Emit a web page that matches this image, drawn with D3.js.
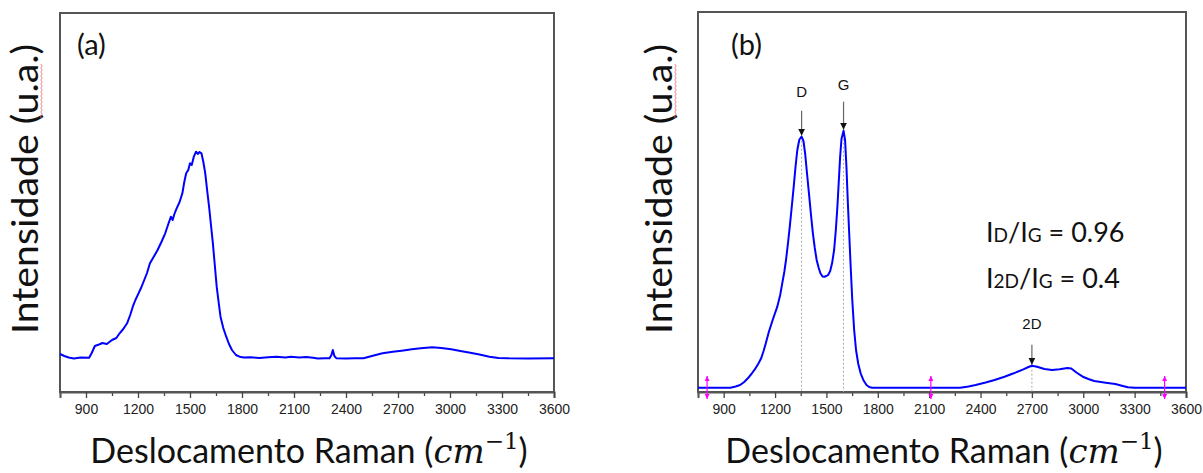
<!DOCTYPE html>
<html>
<head>
<meta charset="utf-8">
<script src="https://cdn.jsdelivr.net/npm/d3@7"></script>
<style>
  body { margin: 0; background: #fff; }
  text { font-family: Lato, "Open Sans", sans-serif; }
</style>
</head>
<body>
<svg id="canvas"></svg>
<script>
// Raman shift (cm-1) and intensity (a.u.)
const shiftA = [750, 775, 800, 830, 870, 918, 933, 951, 975, 995, 1020, 1050, 1075, 1094, 1115, 1137, 1155, 1170, 1185, 1203,
  1220, 1236, 1252, 1269, 1290, 1313, 1335, 1357, 1375, 1390, 1400, 1410, 1423, 1440, 1456, 1467, 1478, 1490, 1500, 1510,
  1522, 1535, 1545, 1555, 1566, 1577, 1588, 1600, 1610, 1621, 1632, 1643, 1654, 1665, 1676, 1692, 1709, 1725, 1742, 1765,
  1786, 1810, 1850, 1900, 1951, 2000, 2050, 2083, 2130, 2171, 2210, 2237, 2280, 2305, 2316, 2324, 2333, 2345, 2400, 2450,
  2501, 2560, 2611, 2670, 2721, 2780, 2831, 2897, 2950, 3007, 3060, 3117, 3170, 3227, 3280, 3336, 3450, 3600];
const intensA = [38, 36, 34.5, 33.5, 34.5, 34.2, 39, 46, 47.5, 49, 48, 52, 54, 58.7, 63, 68.7, 77, 85.3, 92, 98.7,
  105, 112, 119, 128.7, 135, 142, 150, 158.7, 168, 175.3, 172, 178, 183.7, 190, 198.7, 210, 218.7, 222, 228.7, 227,
  235.3, 240.3, 238, 240, 238.7, 230, 218.7, 200, 185.3, 167, 148.7, 127, 105.3, 90, 75.3, 64, 55.3, 48, 42, 37,
  35.3, 34.5, 34.8, 34, 34.7, 35.3, 34.5, 35.3, 34.6, 35, 34.2, 33.5, 33.8, 33.7, 37, 42, 36, 33.7, 33.5, 33.7,
  33.8, 36.5, 38.7, 40.2, 41.3, 42.8, 43.7, 44.7, 44, 42.7, 41, 39.3, 37.5, 35.3, 34, 33.7, 33.6, 33.7];

const shiftB = [750, 940, 970, 996, 1020, 1041, 1064, 1086, 1103, 1119, 1133, 1146, 1164, 1186, 1213, 1230, 1242, 1254, 1264, 1275,
  1286, 1298, 1309, 1320, 1330, 1342, 1355, 1366, 1376, 1387, 1398, 1410, 1421, 1432, 1443, 1455, 1465, 1477, 1488, 1500,
  1510, 1522, 1533, 1545, 1555, 1564, 1572, 1580, 1588, 1600, 1609, 1617, 1625, 1633, 1642, 1651, 1662, 1673, 1686, 1700,
  1717, 1734, 1750, 1767, 2281, 2330, 2371, 2430, 2482, 2540, 2594, 2650, 2680, 2700, 2730, 2773, 2818, 2862, 2907, 2930,
  2960, 2997, 3030, 3064, 3131, 3187, 3220, 3260, 3300, 3600];
const intensB = [4.3, 4.3, 5.5, 7, 10, 13.7, 18.5, 23.7, 28.5, 33.7, 41, 48.7, 60.3, 72, 85.3, 97, 108.7, 120, 132, 148,
  165.3, 186, 205.3, 226, 242, 252.5, 255.3, 251, 238, 218, 198.7, 177, 158.7, 144, 132, 124, 118.7, 115.5, 115.3, 116,
  117, 121, 128.7, 142, 162, 185, 210, 235, 253, 261.3, 252, 225, 190, 158.7, 124, 92, 62, 42, 28, 18.7,
  11.5, 7, 5, 4.3, 4.3, 5.5, 7, 9.5, 12, 15.3, 18.7, 22.7, 25, 26.3, 25.3, 23, 22, 22.7, 24, 23.5,
  19.5, 15.3, 13, 11, 9.3, 8, 6.5, 4.8, 4.3, 4.3];

const peakLabels = ["D", "G", "2D"];
const peakShifts = [1355, 1600, 2700];
const markerShifts = [803, 2110, 3475];
const xTickLabels = [900, 1200, 1500, 1800, 2100, 2400, 2700, 3000, 3300, 3600];

const width = 1203;
const height = 473;
const svg = d3.select("#canvas")
  .attr("width", width)
  .attr("height", height)
  .style("background", "#fff");

const defs = svg.append("defs");
defs.append("marker")
  .attr("id", "head")
  .attr("viewBox", "0 0 10 10")
  .attr("refX", 10).attr("refY", 5)
  .attr("markerWidth", 7).attr("markerHeight", 7)
  .attr("markerUnits", "userSpaceOnUse")
  .attr("orient", "auto")
  .append("path").attr("d", "M0,0 L10,5 L0,10 Z").attr("fill", "#111");
defs.append("marker")
  .attr("id", "pink")
  .attr("viewBox", "0 0 10 10")
  .attr("refX", 10).attr("refY", 5)
  .attr("markerWidth", 5).attr("markerHeight", 5)
  .attr("markerUnits", "userSpaceOnUse")
  .attr("orient", "auto")
  .append("path").attr("d", "M0,0 L10,5 L0,10 Z").attr("fill", "#ff00ff");

function panel(opt) {
  const x = d3.scaleLinear().domain([750, 3600]).range([opt.left, opt.right]);
  const y = d3.scaleLinear().domain([0, 379]).range([392, 392 - 379]);
  const g = svg.append("g");

  // frame
  g.append("rect")
    .attr("x", opt.left).attr("y", opt.top)
    .attr("width", opt.right - opt.left).attr("height", 392 - opt.top)
    .attr("fill", "none").attr("stroke", "#555").attr("stroke-width", 2);

  // x axis: labelled major ticks + minor ticks
  const minor = d3.range(750, 3601, 150).filter(v => v % 300 !== 0);
  g.append("g")
    .attr("transform", "translate(0,392)")
    .call(d3.axisBottom(x).tickValues(minor).tickSize(4).tickFormat(""))
    .call(a => a.select(".domain").remove())
    .call(a => a.selectAll("line").attr("stroke", "#444").attr("stroke-width", 1.3));
  g.append("g")
    .attr("transform", "translate(0,392)")
    .call(d3.axisBottom(x).tickValues(xTickLabels).tickSize(6).tickPadding(6).tickFormat(d3.format("d")))
    .call(a => a.select(".domain").attr("stroke", "#555").attr("stroke-width", 2))
    .call(a => a.selectAll("line").attr("stroke", "#444").attr("stroke-width", 1.3))
    .call(a => a.selectAll("text").attr("font-size", 14).attr("fill", "#222")
      .style("font-family", "'Liberation Sans', Arial, sans-serif"));

  // annotations under the curve
  if (opt.peaks) {
    peakShifts.forEach((s, i) => {
      const v = opt.ys[opt.xs.indexOf(s)];
      g.append("line")
        .attr("x1", x(s)).attr("x2", x(s))
        .attr("y1", y(v)).attr("y2", 392)
        .attr("stroke", "#aaa").attr("stroke-width", 1).attr("stroke-dasharray", "2,2");
    });
  }

  const line = d3.line().x(d => x(d[0])).y(d => y(d[1]));
  g.append("path")
    .datum(d3.zip(opt.xs, opt.ys))
    .attr("d", line)
    .attr("fill", "none")
    .attr("stroke", "#0000ff")
    .attr("stroke-width", 2)
    .attr("stroke-linejoin", "round");

  if (opt.peaks) {
    const tail = [25, 28, 20];
    const lab = [14, 12, 16];
    peakShifts.forEach((s, i) => {
      const v = opt.ys[opt.xs.indexOf(s)];
      const tip = y(v) - 1;
      g.append("line")
        .attr("x1", x(s)).attr("x2", x(s))
        .attr("y1", tip - tail[i]).attr("y2", tip)
        .attr("stroke", "#666").attr("stroke-width", 1.2)
        .attr("marker-end", "url(#head)");
      g.append("text")
        .attr("x", x(s)).attr("y", tip - tail[i] - lab[i])
        .attr("text-anchor", "middle")
        .style("font-family", "'Liberation Sans', Arial, sans-serif")
        .attr("font-size", 15).attr("fill", "#111")
        .text(peakLabels[i]);
    });
    markerShifts.forEach(s => {
      g.append("line")
        .attr("x1", x(s)).attr("x2", x(s))
        .attr("y1", 388).attr("y2", 376)
        .attr("stroke", "#ff00ff").attr("stroke-width", 1.2)
        .attr("marker-end", "url(#pink)");
      g.append("line")
        .attr("x1", x(s)).attr("x2", x(s))
        .attr("y1", 388).attr("y2", 399)
        .attr("stroke", "#ff00ff").attr("stroke-width", 1.2)
        .attr("marker-end", "url(#pink)");
    });
  }

  // panel tag
  g.append("text")
    .attr("x", opt.tagX).attr("y", 55)
    .attr("font-size", 29).attr("fill", "#111")
    .text(opt.tag);

  // y title
  g.append("text")
    .attr("transform", `translate(${opt.yTitleX},189) rotate(-90)`)
    .attr("text-anchor", "middle")
    .attr("font-size", 36).attr("fill", "#111")
    .attr("textLength", 290).attr("lengthAdjust", "spacingAndGlyphs")
    .text("Intensidade (u.a.)");
  // red spell-check squiggle under "u.a."
  const sq = d3.path();
  const sx = opt.yTitleX + 3;
  sq.moveTo(sx, 118);
  for (let k = 0, yy = 118; yy > 64; k++, yy -= 2) sq.lineTo(sx + (k % 2 ? 1.2 : -0.2), yy - 2);
  g.append("path").attr("d", sq.toString())
    .attr("fill", "none").attr("stroke", "#e66").attr("stroke-width", 0.8);

  // x title
  const t = g.append("text")
    .attr("x", (opt.left + opt.right) / 2 + 2).attr("y", 463)
    .attr("text-anchor", "middle")
    .attr("font-size", 34).attr("fill", "#111");
  t.append("tspan").text("Deslocamento Raman (");
  t.append("tspan").style("font-family", "'DejaVu Serif', serif").style("font-style", "italic").text("cm");
  t.append("tspan").attr("dy", -14).attr("font-size", 23).style("font-family", "'DejaVu Serif', serif").text("\u22121");
  t.append("tspan").attr("dy", 14).text(")");
}

panel({ left: 60, right: 554, top: 13, xs: shiftA, ys: intensA, tag: "(a)", tagX: 77, yTitleX: 38 });
panel({ left: 698, right: 1186, top: 12, xs: shiftB, ys: intensB, tag: "(b)", tagX: 731, yTitleX: 672, peaks: true });

// intensity ratios
const ratios = [["D", "G", " = 0.96"], ["2D", "G", " = 0.4"]];
ratios.forEach((r, i) => {
  const t = svg.append("text")
    .attr("x", 986).attr("y", 242 + i * 46)
    .attr("font-size", 27).attr("fill", "#111");
  t.append("tspan").text("I");
  t.append("tspan").attr("font-size", 19).text(r[0]);
  t.append("tspan").text("/I");
  t.append("tspan").attr("font-size", 19).text(r[1]);
  t.append("tspan").text(r[2]);
});
</script>
</body>
</html>
